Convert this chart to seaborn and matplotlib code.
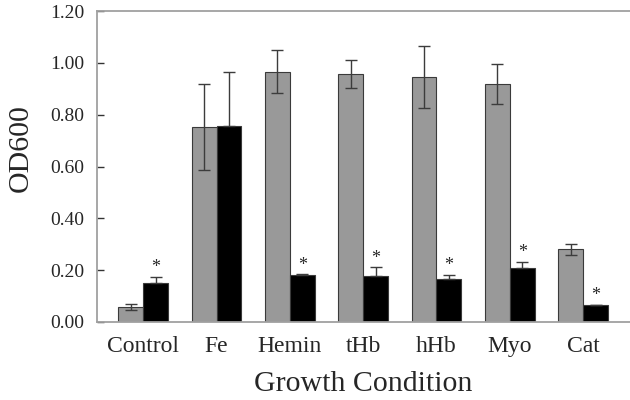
import pandas as pd
import matplotlib
matplotlib.use('Agg')
import matplotlib.pyplot as plt
import seaborn as sns

conditions = ['Control', 'Fe', 'Hemin', 'tHb', 'hHb', 'Myo', 'Cat']
gray_vals = [0.058, 0.753, 0.965, 0.957, 0.946, 0.918, 0.280]
gray_err = [0.010, 0.165, 0.083, 0.055, 0.120, 0.077, 0.020]
black_vals = [0.150, 0.755, 0.180, 0.178, 0.165, 0.208, 0.064]
black_err = [0.025, 0.210, 0.004, 0.033, 0.017, 0.025, 0.002]
black_star = [True, False, True, True, True, True, True]

series = ['A', 'B']
df = pd.DataFrame({
    'condition': conditions * 2,
    'od600': gray_vals + black_vals,
    'err': gray_err + black_err,
    'series': ['A'] * len(conditions) + ['B'] * len(conditions),
})

sns.set_style('ticks')
plt.rcParams['font.family'] = ['Liberation Serif', 'DejaVu Serif']

fig = plt.figure(figsize=(6.3, 4), dpi=100)
ax = fig.add_axes([97 / 630, 78 / 400, 533 / 630, 311 / 400])

sns.barplot(data=df, x='condition', y='od600', hue='series', hue_order=series,
            palette=['#999999', '#000000'], width=0.68, errorbar=None,
            edgecolor='#3a3a3a', linewidth=0.8, legend=False, ax=ax)

# error bars: gray two-sided, black only upward (lower part hidden by the bar)
for cont, s in zip(ax.containers, series):
    sub = df[df['series'] == s]
    for bar, val, e in zip(cont.patches, sub['od600'], sub['err']):
        xc = bar.get_x() + bar.get_width() / 2
        yerr = [[e], [e]] if s == 'A' else [[0], [e]]
        ax.errorbar(xc, val, yerr=yerr, fmt='none', ecolor='#3c3c3c',
                    elinewidth=1.0, capsize=4, capthick=1.0, zorder=5)

for bar, val, e, star in zip(ax.containers[1].patches, black_vals, black_err, black_star):
    if star:
        xc = bar.get_x() + bar.get_width() / 2
        ax.text(xc, val + e + 0.035, '*', ha='center', va='center', fontsize=13)

ax.set_xlim(-0.63, 6.64)
ax.set_ylim(0, 1.2)
ax.set_yticks([0, 0.2, 0.4, 0.6, 0.8, 1.0, 1.2])
ax.set_yticklabels(['{:.2f}'.format(v) for v in [0, 0.2, 0.4, 0.6, 0.8, 1.0, 1.2]], fontsize=14)
ax.tick_params(axis='y', direction='in', length=5, width=1, color='#333333', pad=9)
ax.tick_params(axis='x', length=0, labelsize=17, pad=10)

ax.set_xlabel('Growth Condition', fontsize=21.5)
ax.set_ylabel('OD600', fontsize=21.5)
ax.xaxis.set_label_coords(0.5, -0.158)
ax.yaxis.set_label_coords(-0.118, 0.56)

for side in ['left', 'bottom', 'top']:
    ax.spines[side].set_visible(True)
    ax.spines[side].set_color('#a0a0a0')
    ax.spines[side].set_linewidth(1.3)
ax.spines['right'].set_visible(False)

fig.savefig('out.png', dpi=100)
